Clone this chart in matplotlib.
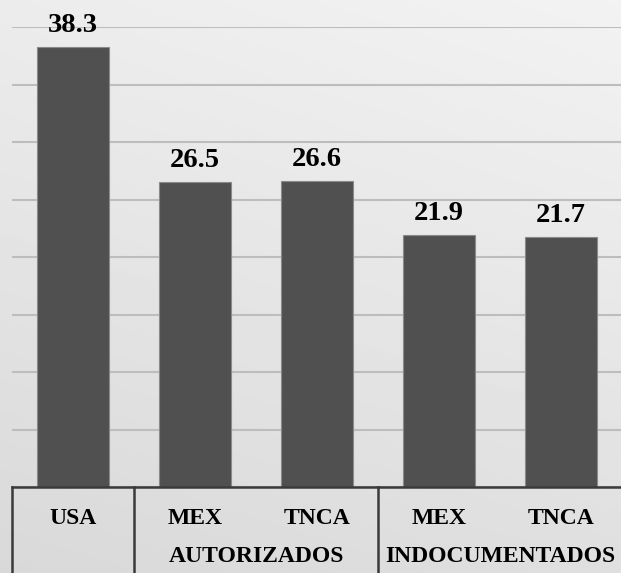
import numpy as np
import matplotlib
matplotlib.use("Agg")
import matplotlib.pyplot as plt
from matplotlib.lines import Line2D
import matplotlib.transforms as mtransforms

categories = ["USA", "MEX", "TNCA", "MEX", "TNCA"]
values = [38.3, 26.5, 26.6, 21.9, 21.7]
groups = ["AUTORIZADOS", "INDOCUMENTADOS"]
group_spans = [(1, 2), (3, 4)]
yticks = [0, 5, 10, 15, 20, 25, 30, 35, 40]

W, H = 621, 573
fig = plt.figure(figsize=(W / 100, H / 100), dpi=100)

# background gradient
bg = fig.add_axes([0, 0, 1, 1], zorder=-10)
yy, xx = np.mgrid[0:1:200j, 0:1:200j]
g = 0.85 + 0.10 * (0.75 * yy + 0.25 * xx)
bg.imshow(g, cmap="gray", vmin=0, vmax=1, origin="lower", extent=[0, 1, 0, 1], aspect="auto")
bg.axis("off")

left = 12 / W
right = 622 / W
bottom = (H - 487) / H
top = (H - 27) / H
ax = fig.add_axes([left, bottom, right - left, top - bottom])
ax.patch.set_alpha(0)

x = np.arange(len(categories))
ax.bar(x, values, width=0.59, color="#505050", edgecolor="#8a8a8a", linewidth=0.8, zorder=3)
ax.set_xlim(-0.5, len(categories) - 0.5)
ax.set_ylim(0, 40)
ax.set_yticks(yticks)
ax.yaxis.grid(True, color="#bdbdbd", linewidth=1.5, zorder=0)
ax.tick_params(left=False, bottom=False, labelleft=False, labelbottom=False)
for s in ax.spines.values():
    s.set_visible(False)

for xi, v in zip(x, values):
    ax.annotate(f"{v}", (xi, v), xytext=(0, 6.5), textcoords="offset points",
                ha="center", va="bottom", fontsize=20.5, fontweight="bold",
                family="Liberation Serif", color="black")

# multi-level axis boxes
trans = mtransforms.blended_transform_factory(ax.transData, fig.transFigure)
y_axis = bottom
line_kw = dict(color="#3a3a3a", linewidth=1.8, clip_on=False, transform=trans)
fig.add_artist(Line2D([-0.5, len(categories) - 0.5], [y_axis, y_axis], **line_kw))
for xv in [-0.5, 0.5, 2.5, 4.5]:
    fig.add_artist(Line2D([xv, xv], [y_axis, 0], **line_kw))

row1 = (H - 518) / H
row2 = (H - 557) / H
for xi, c in zip(x, categories):
    fig.text(xi, row1, c, transform=trans, ha="center", va="center",
             fontsize=17, fontweight="bold", family="Liberation Serif")
for gname, (a, b) in zip(groups, group_spans):
    fig.text((a + b) / 2, row2, gname, transform=trans, ha="center", va="center",
             fontsize=17, fontweight="bold", family="Liberation Serif")

fig.savefig("out.png", dpi=100)
